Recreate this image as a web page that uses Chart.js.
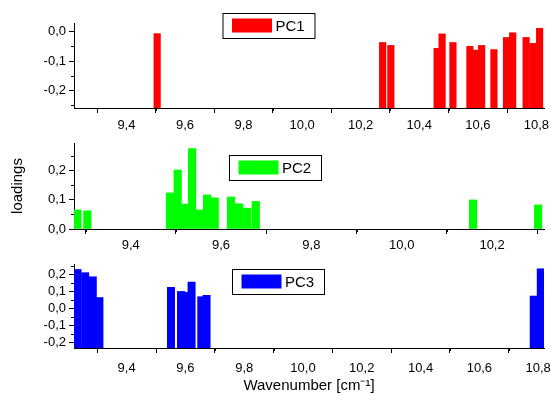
<!DOCTYPE html>
<html>
<head>
<meta charset="utf-8">
<script src="https://cdn.jsdelivr.net/npm/chart.js@4.4.1/dist/chart.umd.min.js"></script>
<style>
  html, body { margin: 0; padding: 0; background: #fff; }
  #wrap { position: relative; width: 551px; height: 400px; }
  .panel { position: absolute; left: 0; width: 551px; }
</style>
</head>
<body>
<div id="wrap">
  <div class="panel" style="top:0;height:135px"><canvas id="pc1"></canvas></div>
  <div class="panel" style="top:135px;height:120px"><canvas id="pc2"></canvas></div>
  <div class="panel" style="top:255px;height:145px"><canvas id="pc3"></canvas></div>
</div>
<script>
// PC1 loadings (wavenumber, loading)
const pc1Wave = [9.505, 10.275, 10.303, 10.461, 10.478, 10.515, 10.573, 10.593,
  10.613, 10.655, 10.698, 10.719, 10.765, 10.788, 10.811];
const pc1Load = [-0.007, -0.037, -0.047, -0.057, -0.008, -0.037, -0.050, -0.063,
  -0.047, -0.061, -0.020, -0.004, -0.020, -0.040, 0.011];

// PC2 loadings
const pc2Wave = [9.282, 9.304, 9.487, 9.504, 9.521, 9.536, 9.553, 9.569,
  9.586, 9.622, 9.640, 9.658, 9.677, 10.158, 10.302];
const pc2Load = [0.065, 0.062, 0.123, 0.201, 0.085, 0.274, 0.065, 0.116,
  0.106, 0.109, 0.086, 0.071, 0.094, 0.099, 0.082];

// PC3 loadings
const pc3Wave = [9.233, 9.259, 9.276, 9.285, 9.3075, 9.551, 9.585, 9.607,
  9.621, 9.654, 9.672, 10.785, 10.809];
const pc3Load = [0.228, 0.209, 0.176, 0.185, 0.063, 0.123, 0.099, 0.094,
  0.154, 0.068, 0.076, 0.072, 0.232];

// axis ranges
const pc1XRange = [9.221, 10.826], pc1YRange = [-0.259, 0.029];
const pc2XRange = [9.2745, 10.315], pc2YRange = [0, 0.293];
const pc3XRange = [9.221, 10.82], pc3YRange = [-0.233, 0.26];

// tick labels (major) and minor tick positions
const xTicksWide = [9.4, 9.6, 9.8, 10.0, 10.2, 10.4, 10.6, 10.8];
const xMinorWide = [9.3, 9.5, 9.7, 9.9, 10.1, 10.3, 10.5, 10.7];
const xTicksNarrow = [9.4, 9.6, 9.8, 10.0, 10.2];
const xMinorNarrow = [9.3, 9.5, 9.7, 9.9, 10.1, 10.3];
const pc1YTicks = [-0.2, -0.1, 0.0], pc1YMinor = [-0.25, -0.15, -0.05];
const pc2YTicks = [0.0, 0.1, 0.2], pc2YMinor = [0.05, 0.15, 0.25];
const pc3YTicks = [-0.2, -0.1, 0.0, 0.1, 0.2], pc3YMinor = [-0.15, -0.05, 0.05, 0.15, 0.25];

Chart.defaults.font.family = '"Liberation Sans", Arial, sans-serif';
Chart.defaults.font.size = 13;
Chart.defaults.color = '#000';

const commaFmt = v => Number(v).toFixed(1).replace('.', ',');

// short minor ticks, Origin style
const minorTicks = {
  id: 'minorTicks',
  afterDraw(chart, args, opts) {
    const ctx = chart.ctx;
    const xs = chart.scales.x, ys = chart.scales.y;
    ctx.save();
    ctx.strokeStyle = '#000';
    ctx.lineWidth = 1;
    ctx.beginPath();
    opts.x.forEach(v => {
      const px = Math.round(xs.getPixelForValue(v)) + 0.5;
      ctx.moveTo(px, xs.top);
      ctx.lineTo(px, xs.top + 3);
    });
    opts.y.forEach(v => {
      const py = Math.round(ys.getPixelForValue(v)) + 0.5;
      ctx.moveTo(ys.right, py);
      ctx.lineTo(ys.right - 3, py);
    });
    ctx.stroke();
    ctx.restore();
  }
};

// framed legend box
const boxLegend = {
  id: 'boxLegend',
  afterDraw(chart, args, opts) {
    const ds = chart.data.datasets[0];
    const ctx = chart.ctx;
    const l = opts.left, t = opts.top;
    ctx.save();
    ctx.fillStyle = '#fff';
    ctx.fillRect(l, t, 93, 26);
    ctx.strokeStyle = '#000';
    ctx.lineWidth = 1;
    ctx.strokeRect(l + 0.5, t + 0.5, 92, 25);
    ctx.fillStyle = ds.backgroundColor;
    ctx.fillRect(l + 9.5, t + 5.5, 40, 14);
    ctx.fillStyle = '#000';
    ctx.font = '15px "Liberation Sans", Arial, sans-serif';
    ctx.textBaseline = 'middle';
    ctx.fillText(ds.label, l + 53, t + 13.5);
    ctx.restore();
  }
};

function makePanel(id, p) {
  return new Chart(document.getElementById(id), {
    type: 'bar',
    data: {
      datasets: [{
        label: p.label,
        data: p.wave.map((w, i) => ({ x: w, y: p.load[i] })),
        backgroundColor: p.color,
        borderWidth: 0,
        barThickness: p.barWidth,
        base: p.yRange[0],
      }],
    },
    options: {
      responsive: true,
      maintainAspectRatio: false,
      animation: false,
      layout: { padding: { top: p.padTop, right: 7, left: 0, bottom: 0 } },
      plugins: {
        legend: { display: false },
        tooltip: { enabled: false },
        minorTicks: { x: p.xMinor, y: p.yMinor },
        boxLegend: { left: p.legendLeft, top: p.legendTop },
      },
      scales: {
        x: {
          type: 'linear',
          offset: false,
          min: p.xRange[0],
          max: p.xRange[1],
          afterBuildTicks: s => { s.ticks = p.xTicks.map(v => ({ value: v })); },
          afterFit: s => {
            s.height = p.xHeight;
            s.paddingLeft = 0; s.paddingRight = 0;
          },
          border: { color: '#000', width: 1 },
          grid: { drawOnChartArea: false, tickLength: 5, color: '#000' },
          ticks: { autoSkip: false, maxRotation: 0, padding: p.xPad, callback: commaFmt },
          title: p.xTitle ? {
            display: true, text: p.xTitle, font: { size: 15 },
            padding: { top: 0, bottom: 5 },
          } : { display: false },
        },
        y: {
          min: p.yRange[0],
          max: p.yRange[1],
          afterBuildTicks: s => { s.ticks = p.yTicks.map(v => ({ value: v })); },
          afterFit: s => {
            s.width = 74;
            s.paddingTop = 0; s.paddingBottom = 0;
          },
          border: { color: '#000', width: 1 },
          grid: { drawOnChartArea: false, tickLength: 5, color: '#000' },
          ticks: { padding: 3, callback: commaFmt },
          title: p.yTitle ? {
            display: true, text: p.yTitle, font: { size: 15 },
            padding: { top: 9, bottom: 0 },
          } : { display: false },
        },
      },
    },
    plugins: [minorTicks, boxLegend],
  });
}

makePanel('pc1', {
  label: 'PC1', color: '#ff0000', wave: pc1Wave, load: pc1Load, barWidth: 6.5,
  xRange: pc1XRange, yRange: pc1YRange, xTicks: xTicksWide, xMinor: xMinorWide,
  yTicks: pc1YTicks, yMinor: pc1YMinor,
  padTop: 23, xHeight: 27, xPad: 5, legendLeft: 222.5, legendTop: 13,
});

makePanel('pc2', {
  label: 'PC2', color: '#00ff00', wave: pc2Wave, load: pc2Load, barWidth: 7.5,
  xRange: pc2XRange, yRange: pc2YRange, xTicks: xTicksNarrow, xMinor: xMinorNarrow,
  yTicks: pc2YTicks, yMinor: pc2YMinor, yTitle: 'loadings',
  padTop: 8, xHeight: 26, xPad: 4, legendLeft: 229, legendTop: 20,
});

makePanel('pc3', {
  label: 'PC3', color: '#0000ff', wave: pc3Wave, load: pc3Load, barWidth: 7.3,
  xRange: pc3XRange, yRange: pc3YRange, xTicks: xTicksWide, xMinor: xMinorWide,
  yTicks: pc3YTicks, yMinor: pc3YMinor, xTitle: 'Wavenumber [cm\u207B\u00B9]',
  padTop: 9, xHeight: 52, xPad: 8, legendLeft: 232, legendTop: 14,
});
</script>
</body>
</html>
